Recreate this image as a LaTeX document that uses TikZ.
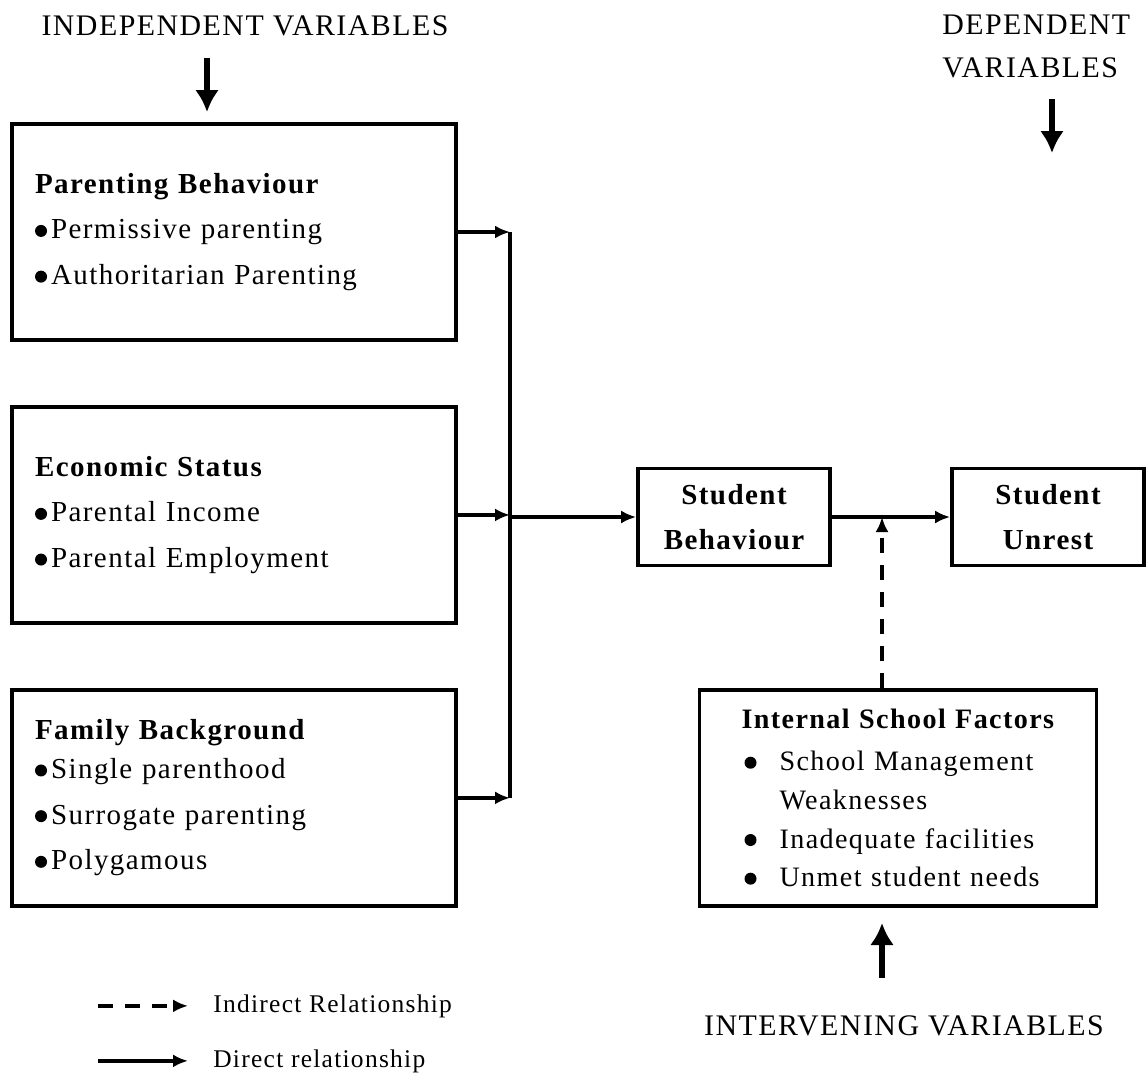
\documentclass[tikz,border=0pt]{standalone}
\usepackage{fontspec}
\setmainfont{Liberation Serif}[LetterSpace=5]
\usetikzlibrary{arrows.meta}

\newcommand{\headfont}{\fontsize{17}{24.5}\selectfont}
\newcommand{\boxfont}{\fontsize{16.5}{26}\selectfont}
\newcommand{\isffont}{\fontsize{16}{22}\selectfont}
\newcommand{\legfont}{\fontsize{14.5}{18}\selectfont}
\newcommand{\blt}{\tikz[baseline=-0.16cm]\fill (0,0) circle (0.12cm);}
\newcommand{\lbullet}{\blt\hspace{0.08cm}}
\newcommand{\isfitem}{\hspace*{0.06cm}\makebox[0.7cm][l]{\blt}}

\begin{document}
\begin{tikzpicture}[
        x=0.02cm, y=-0.02cm,
        node distance=5.66cm,
        factor/.style={draw, line width=2.1pt, text width=7.96cm, inner xsep=0.46cm, minimum height=4.32cm, align=left, font=\boxfont},
        outcome/.style={draw, line width=2.1pt, minimum width=3.84cm, minimum height=1.94cm, align=center, font=\boxfont\bfseries},
        heading/.style={inner sep=0pt, font=\headfont},
        legend/.style={inner sep=0pt, font=\legfont},
        link/.style={line width=2pt, -{Latex[length=0.3cm,width=0.26cm]}},
        dashlink/.style={link, dash pattern=on 0.3cm off 0.24cm},
        bigarrow/.style={line width=3.8pt, -{Latex[length=0.44cm,width=0.48cm]}}
    ]
        \useasboundingbox (0,0) rectangle (1146,1079);

        % headings
        \node[heading, anchor=base] (iv) at (245,35) {INDEPENDENT VARIABLES};
        \node[heading, anchor=north west, align=left] (dv) at (942,15) {DEPENDENT\\VARIABLES};
        \node[heading, anchor=base] (inv) at (904,1035) {INTERVENING VARIABLES};

        % independent variables
        \node[factor] (pb) at (234,232) {\textbf{Parenting Behaviour}\\\lbullet Permissive parenting\\\lbullet Authoritarian Parenting};
        \node[factor, below of=pb] (es) {\textbf{Economic Status}\\\lbullet Parental Income\\\lbullet Parental Employment};
        \node[factor, below of=es] (fb) {\textbf{Family Background}\\[-4pt]\lbullet Single parenthood\\\lbullet Surrogate parenting\\\lbullet Polygamous};

        % dependent variables
        \node[outcome] (sb) at (734,517) {Student\\Behaviour};
        \node[outcome] (su) at (1048,517) {Student\\Unrest};

        % intervening variables
        \node[draw, line width=2.1pt, text width=6.26cm, inner xsep=0.84cm, minimum height=4.32cm, align=left, font=\isffont] (isf) at (898,798) {\textbf{Internal School Factors}\\[2pt]\isfitem School Management\\\hspace*{0.76cm}Weaknesses\\\isfitem Inadequate facilities\\\isfitem Unmet student needs};

        \coordinate (bus) at (510,517);
        \coordinate (meet) at (882,517);
        \coordinate (ivtip) at (207,112);
        \coordinate (dvtip) at (1052,153);
        \coordinate (invtip) at (882,923);

        \draw[link] (pb.east) -- (pb.east -| bus);
        \draw[link] (es.east) -- (es.east -| bus);
        \draw[link] (fb.east) -- (fb.east -| bus);
        \draw[line width=2pt] (pb.east -| bus) -- (fb.east -| bus);
        \draw[link] (bus) -- (sb);
        \draw[link] (sb) -- (su);
        \draw[dashlink] (isf.north -| meet) -- (meet);

        \draw[bigarrow, shorten <=0.44cm] (iv.south -| ivtip) -- (ivtip);
        \draw[bigarrow, shorten <=0.4cm] (dv.south -| dvtip) -- (dvtip);
        \draw[bigarrow, shorten <=0.74cm] (inv.north -| invtip) -- (invtip);

        % legend
        \node[legend, anchor=base west] (ind) at (213,1012) {Indirect Relationship};
        \node[legend, anchor=base west] (dir) at (213,1067) {Direct relationship};
        \draw[dashlink] ([xshift=-2.3cm]ind.west) -- ([xshift=-0.5cm]ind.west);
        \draw[link] ([xshift=-2.3cm]dir.west) -- ([xshift=-0.5cm]dir.west);
    \end{tikzpicture}
\end{document}
